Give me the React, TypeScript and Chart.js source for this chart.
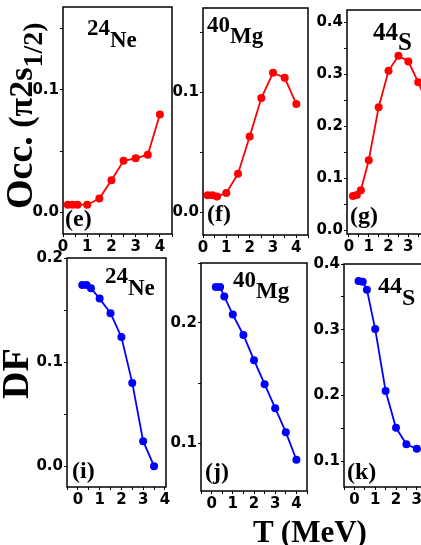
import React, { useEffect, useRef } from 'react';
import { Chart, registerables } from 'chart.js';

Chart.register(...registerables);

// ---------- data ----------
const tempsOcc = [0.2, 0.4, 0.6, 1.0, 1.5, 2.0, 2.5, 3.0, 3.5, 4.0];
const occNe24 = [0.006, 0.006, 0.006, 0.006, 0.011, 0.026, 0.042, 0.044, 0.047, 0.080];
const occMg40 = [0.014, 0.014, 0.013, 0.016, 0.032, 0.063, 0.095, 0.116, 0.112, 0.090];
const occS44 = [0.066, 0.068, 0.077, 0.135, 0.237, 0.307, 0.336, 0.325, 0.285, 0.24];

const tempsDfNe = [0.2, 0.4, 0.6, 1.0, 1.5, 2.0, 2.5, 3.0, 3.5];
const dfNe24 = [0.174, 0.174, 0.171, 0.161, 0.147, 0.124, 0.080, 0.024, 0.0];
const tempsDf = [0.2, 0.4, 0.6, 1.0, 1.5, 2.0, 2.5, 3.0, 3.5, 4.0];
const dfMg40 = [0.230, 0.230, 0.222, 0.207, 0.190, 0.169, 0.149, 0.129, 0.109, 0.086];
const dfS44 = [0.374, 0.373, 0.361, 0.301, 0.207, 0.151, 0.126, 0.119, 0.117, 0.115];

// tick values (labels shown on the major ones)
const xTicksAll = [-0.5, 0, 0.5, 1, 1.5, 2, 2.5, 3, 3.5, 4, 4.5];
const yTicksSmall = [0, 0.05, 0.1, 0.15];
const yTicksNeDF = [0, 0.05, 0.1, 0.15, 0.2];
const yTicksMgDF = [0.1, 0.15, 0.2, 0.25];
const yTicksS = [0, 0.05, 0.1, 0.15, 0.2, 0.25, 0.3, 0.35, 0.4];
const yTicksSDF = [0.1, 0.15, 0.2, 0.25, 0.3, 0.35, 0.4];

const RED = '#ff0000';
const BLUE = '#0000ff';

type Spec = {
  box: [number, number, number, number];
  xr: [number, number];
  yr: [number, number];
  xs: number[];
  ys: number[];
  color: string;
  yTicks: number[];
};

const panels: Spec[] = [
  { box: [63, 7, 172, 234], xr: [0, 4.5], yr: [-0.018, 0.168], xs: tempsOcc, ys: occNe24, color: RED, yTicks: yTicksSmall },
  { box: [203, 8, 308, 235], xr: [0, 4.5], yr: [-0.019, 0.17], xs: tempsOcc, ys: occMg40, color: RED, yTicks: yTicksSmall },
  { box: [347, 10, 438, 234], xr: [-0.1, 4.5], yr: [-0.007, 0.424], xs: tempsOcc, ys: occS44, color: RED, yTicks: yTicksS },
  { box: [67, 258, 166, 487], xr: [-0.5, 4.05], yr: [-0.02, 0.2], xs: tempsDfNe, ys: dfNe24, color: BLUE, yTicks: yTicksNeDF },
  { box: [201, 263, 307, 491], xr: [-0.5, 4.5], yr: [0.06, 0.25], xs: tempsDf, ys: dfMg40, color: BLUE, yTicks: yTicksMgDF },
  { box: [344, 264, 448, 487], xr: [-0.5, 4.5], yr: [0.061, 0.4], xs: tempsDf, ys: dfS44, color: BLUE, yTicks: yTicksSDF },
];

const PADL = 44, PADT = 12, PADR = 12, PADB = 24;
const tickFont = { family: 'DejaVu Sans', weight: 'bold' as const, size: 15 };

const frame = {
  id: 'frame',
  afterDraw(chart: any) {
    const { ctx, chartArea } = chart;
    const { left, top, right, bottom } = chartArea;
    ctx.save();
    ctx.strokeStyle = '#000';
    ctx.lineWidth = 1.5;
    ctx.strokeRect(left, top, right - left, bottom - top);
    ctx.restore();
  },
};

const isMajor = (v: number) => Math.abs(v * 10 - Math.round(v * 10)) < 1e-6;

function Panel({ spec }: { spec: Spec }) {
  const ref = useRef<HTMLCanvasElement>(null);
  const [l, t, r, b] = spec.box;
  const W = PADL + (r - l) + PADR;
  const H = PADT + (b - t) + PADB;
  useEffect(() => {
    const chart = new Chart(ref.current!, {
      type: 'line',
      data: {
        datasets: [
          {
            data: spec.xs.map((x, i) => ({ x, y: spec.ys[i] })),
            borderColor: spec.color,
            backgroundColor: spec.color,
            pointBackgroundColor: spec.color,
            pointBorderWidth: 0,
            pointRadius: 4,
            borderWidth: 1.8,
            tension: 0,
          },
        ],
      },
      options: {
        responsive: false,
        animation: false,
        layout: { padding: { top: PADT, right: PADR, left: 0, bottom: 0 } },
        plugins: { legend: { display: false }, tooltip: { enabled: false } },
        scales: {
          x: {
            type: 'linear',
            min: spec.xr[0],
            max: spec.xr[1],
            afterBuildTicks: (s: any) => {
              s.ticks = xTicksAll.filter((v) => v >= spec.xr[0] - 1e-9 && v <= spec.xr[1] + 1e-9).map((v) => ({ value: v }));
            },
            afterFit: (s: any) => {
              s.height = PADB;
              s.paddingLeft = 0;
              s.paddingRight = 0;
            },
            ticks: {
              autoSkip: false,
              maxRotation: 0,
              padding: 1,
              color: '#000',
              font: tickFont,
              callback: (v: any) => (Number.isInteger(v) ? String(v) : ''),
            },
            grid: { drawOnChartArea: false, drawTicks: true, tickLength: 3, tickColor: '#000', tickWidth: 1 },
            border: { display: false },
          },
          y: {
            type: 'linear',
            min: spec.yr[0],
            max: spec.yr[1],
            afterBuildTicks: (s: any) => {
              s.ticks = spec.yTicks.map((v) => ({ value: v }));
            },
            afterFit: (s: any) => {
              s.width = PADL;
              s.paddingTop = 0;
              s.paddingBottom = 0;
            },
            ticks: {
              autoSkip: false,
              padding: 1,
              color: '#000',
              font: tickFont,
              callback: (v: any) => (isMajor(v) ? Number(v).toFixed(1) : ''),
            },
            grid: { drawOnChartArea: false, drawTicks: true, tickLength: 3, tickColor: '#000', tickWidth: 1 },
            border: { display: false },
          },
        },
      } as any,
      plugins: [frame],
    });
    return () => chart.destroy();
  }, []);
  return (
    <canvas
      ref={ref}
      width={W}
      height={H}
      style={{ position: 'absolute', left: l - PADL, top: t - PADT, width: W, height: H }}
    />
  );
}

const SERIF = "'Liberation Serif', 'Times New Roman', serif";

function Txt({ left, baseline, size, children, family = SERIF }: any) {
  const top = baseline - 0.8375 * size;
  return (
    <div
      style={{
        position: 'absolute',
        left,
        top,
        fontFamily: family,
        fontWeight: 'bold',
        fontSize: size,
        lineHeight: `${size}px`,
        whiteSpace: 'nowrap',
        color: '#000',
      }}
    >
      {children}
    </div>
  );
}

function Nuc({ left, baseline, size, mass, sym, shift }: any) {
  return (
    <Txt left={left} baseline={baseline} size={size}>
      {mass}
      <span style={{ position: 'relative', top: shift }}>{sym}</span>
    </Txt>
  );
}

const topStripMid = ['0', '1', '2', '3', '4'];
const topStripRight = ['0', '1', '2', '3'];

export default function App() {
  return (
    <div style={{ position: 'absolute', left: 0, top: 0, width: 421, height: 545, overflow: 'hidden', background: '#fff' }}>
      {panels.map((p, i) => (
        <Panel key={i} spec={p} />
      ))}

      {/* partial tick labels of the row above */}
      {topStripMid.map((s, i) => (
        <div key={'m' + i} style={{ position: 'absolute', left: 207 + i * 23, top: -12, font: "bold 15px 'DejaVu Sans'", lineHeight: '15px' }}>{s}</div>
      ))}
      {topStripRight.map((s, i) => (
        <div key={'r' + i} style={{ position: 'absolute', left: 349 + i * 20, top: -12, font: "bold 15px 'DejaVu Sans'", lineHeight: '15px' }}>{s}</div>
      ))}

      {/* nucleus labels */}
      <Nuc left={87} baseline={35} size={23} mass="24" sym="Ne" shift={12} />
      <Nuc left={207} baseline={32} size={23} mass="40" sym="Mg" shift={11} />
      <Nuc left={373} baseline={40} size={25} mass="44" sym="S" shift={10} />
      <Nuc left={105} baseline={283} size={23} mass="24" sym="Ne" shift={12} />
      <Nuc left={233} baseline={287} size={23} mass="40" sym="Mg" shift={11} />
      <Nuc left={378} baseline={293} size={24} mass="44" sym="S" shift={12} />

      {/* panel letters */}
      <Txt left={65} baseline={226} size={24}>(e)</Txt>
      <Txt left={207} baseline={221} size={24}>(f)</Txt>
      <Txt left={350} baseline={223} size={24}>(g)</Txt>
      <Txt left={72} baseline={478} size={24}>(i)</Txt>
      <Txt left={205} baseline={479} size={24}>(j)</Txt>
      <Txt left={347} baseline={479} size={24}>(k)</Txt>

      {/* y titles */}
      <div
        style={{
          position: 'absolute',
          left: -1,
          top: 209,
          transformOrigin: '0 0',
          transform: 'rotate(-90deg)',
          whiteSpace: 'nowrap',
          fontFamily: SERIF,
          fontWeight: 'bold',
          fontSize: 38,
          lineHeight: '40px',
          color: '#000',
        }}
      >
        Occ.
        <span style={{ fontSize: 34, lineHeight: '40px' }}> (π2s</span>
        <span style={{ fontSize: 28, lineHeight: '40px', position: 'relative', top: 10 }}>1/2)</span>
      </div>
      <div
        style={{
          position: 'absolute',
          left: -5,
          top: 399,
          transformOrigin: '0 0',
          transform: 'rotate(-90deg)',
          whiteSpace: 'nowrap',
          fontFamily: SERIF,
          fontWeight: 'bold',
          fontSize: 38,
          lineHeight: '40px',
          color: '#000',
        }}
      >
        DF
      </div>

      {/* x title */}
      <Txt left={253} baseline={542} size={31}>T (MeV)</Txt>
    </div>
  );
}
